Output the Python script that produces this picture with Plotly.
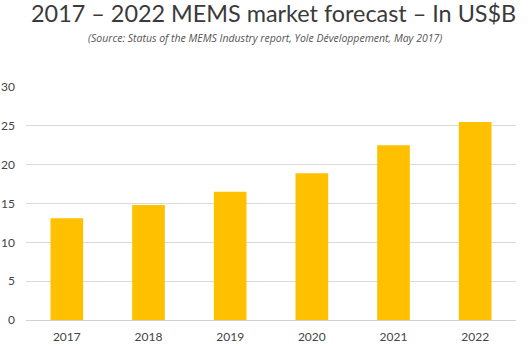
import plotly.graph_objects as go

years = ["2017", "2018", "2019", "2020", "2021", "2022"]
market_usd_b = [13.1, 14.8, 16.5, 18.9, 22.5, 25.5]
y_ticks = [0, 5, 10, 15, 20, 25, 30]

W, H = 532, 346
ML, MR, MT, MB = 26, 16, 87, 26

fig = go.Figure(go.Bar(
    x=years, y=market_usd_b,
    marker=dict(color="#FFC000", line=dict(width=0)),
))

pw = W - ML - MR
ph = H - MT - MB


def px_to_paper(x, y):
    return (x - ML) / pw, (H - MB - y) / ph


tx, ty = px_to_paper(273.5, 13)
sx, sy = px_to_paper(265, 38)

fig.update_layout(
    width=W, height=H,
    margin=dict(l=ML, r=MR, t=MT, b=MB),
    paper_bgcolor="white", plot_bgcolor="white",
    bargap=0.6,
    showlegend=False,
    font=dict(family="Lato, Open Sans, sans-serif", color="#555555"),
    annotations=[
        dict(text="2017 – 2022 MEMS market forecast – In US$B", x=tx, y=ty,
             xref="paper", yref="paper", showarrow=False,
             xanchor="center", yanchor="middle",
             font=dict(size=23.4, color="#3a3a3a", family="Lato, sans-serif")),
        dict(text="<i>(Source: Status of the MEMS Industry report, Yole Développement, May 2017)</i>",
             x=sx, y=sy, xref="paper", yref="paper", showarrow=False,
             xanchor="center", yanchor="middle",
             font=dict(size=10.5, color="#555555", family="Open Sans, sans-serif")),
    ],
)

fig.update_xaxes(showgrid=False, showline=False, ticks="", automargin=False,
                 ticklabelstandoff=8,
                 tickfont=dict(size=12, color="#444444"))
fig.update_yaxes(range=[0, 30], tickvals=y_ticks, showgrid=True, automargin=False,
                 gridcolor="#d9d9d9", gridwidth=1, zeroline=True,
                 zerolinecolor="#d0d0d0", zerolinewidth=1,
                 ticks="", ticklabelstandoff=10,
                 tickfont=dict(size=12, color="#444444"))

fig.write_html("out.html")
